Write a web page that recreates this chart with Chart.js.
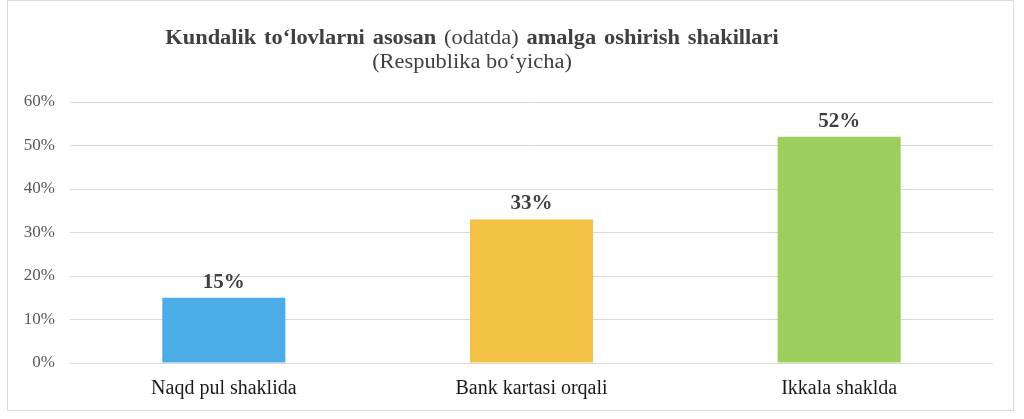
<!DOCTYPE html>
<html>
<head>
<meta charset="utf-8">
<script src="https://cdn.jsdelivr.net/npm/chart.js@4"></script>
<style>
  body { margin: 0; background: #fff; }
  #wrap { position: relative; width: 1024px; height: 419px; overflow: hidden; }
  #frame { position: absolute; left: 7px; top: 0px; width: 1007px; height: 411px; border: 1px solid #d9d9d9; box-sizing: border-box; }
  #title { position: absolute; left: 0; width: 944px; top: 25px; text-align: center; font-family: "Liberation Serif", serif; color: #404040; transform: scaleX(1.12); transform-origin: 472px 0; line-height: 1.2; }
  #title .t1 { font-size: 20px; font-weight: bold; word-spacing: 2px; }
  #title .t1 span { font-weight: normal; }
  #title .t2 { font-size: 20px; margin-top: 0px; }
  canvas { position: absolute; left: 0; top: 0; }
</style>
</head>
<body>
<div id="wrap">
  <div id="frame"></div>
  <canvas id="grafik" width="1024" height="419"></canvas>
  <div id="title">
    <div class="t1">Kundalik to‘lovlarni asosan <span>(odatda)</span> amalga oshirish shakillari</div>
    <div class="t2">(Respublika bo‘yicha)</div>
  </div>
</div>
<script>
// ma'lumotlar
const kategoriyalar = ["Naqd pul shaklida", "Bank kartasi orqali", "Ikkala shaklda"]
const qiymatlar = [15, 33, 52]
const ranglar = ["#4CACE8", "#F3C143", "#9DCE5E"]
const yTicks = [0, 10, 20, 30, 40, 50, 60]

// ustun ustidagi foiz yozuvlari
const foizYozuv = {
    id: "foizYozuv",
    afterDatasetsDraw(chart) {
        const ctx = chart.ctx
        const meta = chart.getDatasetMeta(0)
        ctx.save()
        ctx.font = "bold 21px 'Liberation Serif'"
        ctx.fillStyle = "#404040"
        ctx.textAlign = "center"
        ctx.textBaseline = "alphabetic"
        meta.data.forEach((bar, i) => {
            ctx.fillText(qiymatlar[i] + "%", bar.x, bar.y - 10)
        })
        ctx.restore()
    }
}

const ctx = document.getElementById("grafik").getContext("2d")
new Chart(ctx, {
    type: "bar",
    data: {
        labels: kategoriyalar,
        datasets: [{
            data: qiymatlar,
            backgroundColor: ranglar,
            barPercentage: 0.4,
            categoryPercentage: 1
        }]
    },
    options: {
        responsive: false,
        animation: false,
        layout: { padding: { left: 8, right: 31, top: 102, bottom: 0 } },
        plugins: {
            legend: { display: false },
            tooltip: { enabled: false }
        },
        scales: {
            x: {
                grid: { display: false, drawTicks: false },
                border: { display: false },
                ticks: {
                    padding: 14,
                    color: "#1a1a1a",
                    font: { family: "Liberation Serif", size: 20 }
                },
                afterFit: (scale) => { scale.height = 56 }
            },
            y: {
                min: 0,
                max: 60,
                afterBuildTicks: (scale) => { scale.ticks = yTicks.map(v => ({ value: v })) },
                grid: { color: "#d9d9d9", lineWidth: 1, drawTicks: false },
                border: { display: false },
                ticks: {
                    padding: 15,
                    color: "#595959",
                    font: { family: "Liberation Serif", size: 17 },
                    callback: (v) => v + "%"
                },
                afterFit: (scale) => { scale.width = 62 }
            }
        }
    },
    plugins: [foizYozuv]
})
</script>
</body>
</html>
